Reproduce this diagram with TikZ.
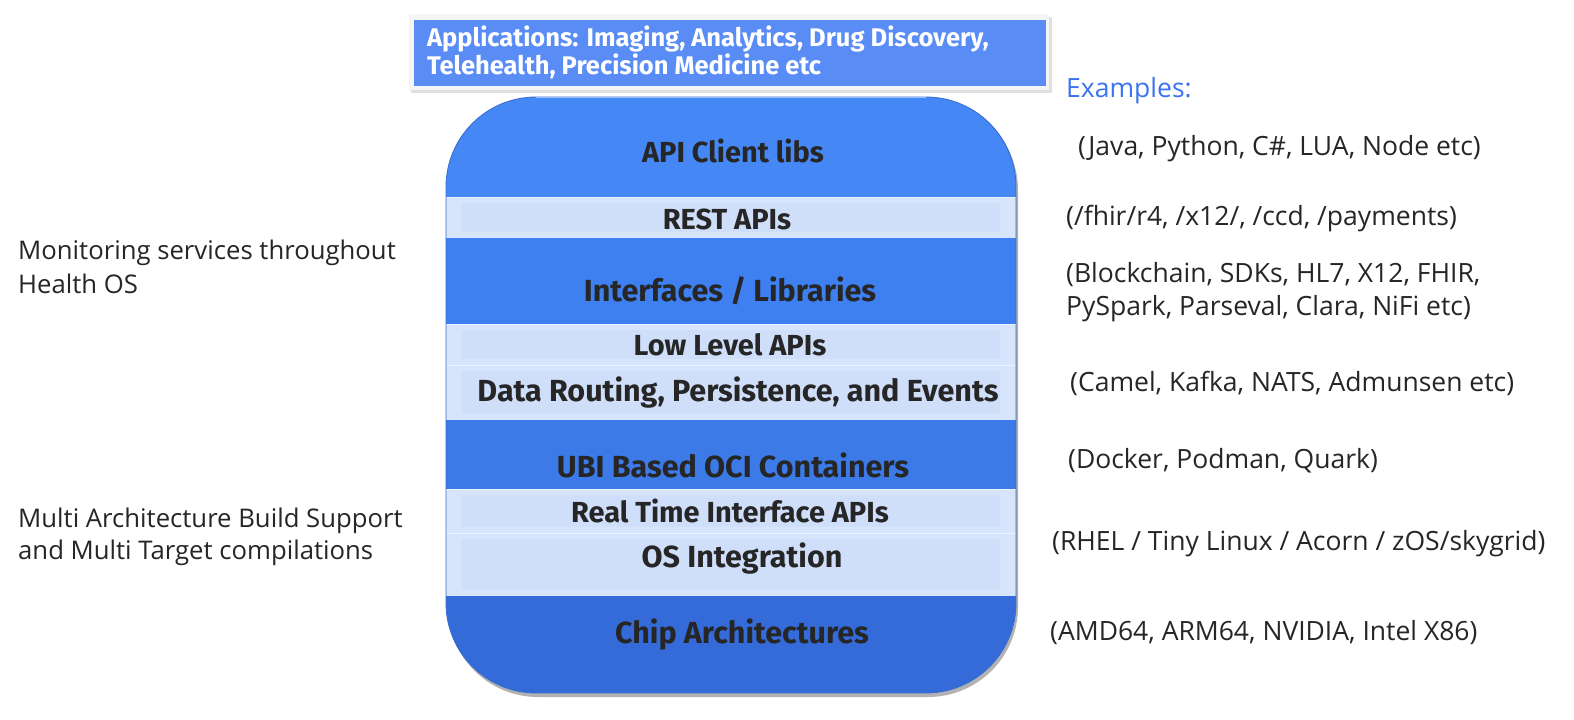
\documentclass[tikz,border=0pt]{standalone}
\usepackage{fontspec}
\setmainfont{Open Sans}
\newfontfamily\lyrfont{Fira Sans}
\usetikzlibrary{calc}
\definecolor{txt}{HTML}{262626}
\definecolor{exblue}{HTML}{3B73F0}
\definecolor{appblue}{HTML}{5A8CF5}
\definecolor{topblue}{HTML}{4487F5}
\definecolor{midblue}{HTML}{3F80F0}
\definecolor{ubiblue}{HTML}{3C7AE8}
\definecolor{chipblue}{HTML}{356BD8}
\definecolor{lightband}{HTML}{D7E5FC}
\definecolor{bandinner}{HTML}{CFDEF9}
\begin{document}
\begin{tikzpicture}[x=1pt,y=-1pt,
  lyr/.style={font=\lyrfont\bfseries\fontsize{29}{34}\selectfont, text=txt, anchor=base, inner sep=0pt},
  lyrbig/.style={font=\lyrfont\bfseries\fontsize{30.5}{36}\selectfont, text=txt, anchor=base, inner sep=0pt},
  note/.style={font=\fontsize{26.5}{31}\selectfont, text=txt, anchor=base west, inner sep=0pt},
  leftnote/.style={note, font=\fontsize{25.7}{30}\selectfont},
  apptext/.style={font=\lyrfont\bfseries\fontsize{25.5}{30}\selectfont, text=white, anchor=base west, inner sep=0pt},
  band/.style={fill=lightband},
  bevel/.style={fill=bandinner}
]
\useasboundingbox (0,0) rectangle (1574,720);
\fill[white] (0,0) rectangle (1574,720);

% application box
\fill[black!12] (411,17) rectangle (1052,93);
\fill[white!96!black] (409,14) rectangle (1049,90);
\node[fill=appblue, minimum width=632pt, minimum height=66pt, inner sep=0pt, anchor=north west] (apps) at (414,20) {};
\node[apptext] (app1) at (427,46) {Applications: Imaging, Analytics, Drug Discovery,};
\node[apptext] (app2) at (427,74) {Telehealth, Precision Medicine etc};

% stack shadow
\fill[black!30, rounded corners=90pt] (448,100) rectangle (1018,697);

% stack
\begin{scope}
\clip[rounded corners=90pt] (446,97) rectangle (1016,693);
\fill[topblue] (446,97) rectangle (1016,197);
\fill[band] (446,197) rectangle (1016,238);
\fill[midblue] (446,238) rectangle (1016,324);
\fill[band] (446,324) rectangle (1016,420);
\fill[ubiblue] (446,420) rectangle (1016,489);
\fill[band] (446,489) rectangle (1016,596);
\fill[chipblue] (446,596) rectangle (1016,693);
\fill[bevel] (462,203) rectangle (1000,232);
\fill[bevel] (462,330) rectangle (1000,359);
\fill[bevel] (462,371) rectangle (1000,414);
\fill[bevel] (462,495) rectangle (1000,527);
\fill[bevel] (462,539) rectangle (1000,590);
\draw[white!55!lightband, line width=1pt] (446,197.5) -- (1016,197.5) (446,324.5) -- (1016,324.5) (446,489.5) -- (1016,489.5) (446,365) -- (1016,365) (446,533) -- (1016,533);
\end{scope}
\draw[midblue!85!black, line width=0.8pt, rounded corners=90pt] (446,97) rectangle (1016,693);
\draw[topblue!55!white, line width=1.2pt] (536,97.8) -- (926,97.8);

% layer labels
\node[lyr] (api) at (733,162) {API Client libs};
\node[lyr] (rest) at (727,229) {REST APIs};
\node[lyrbig] (intf) at (730,301) {Interfaces / Libraries};
\node[lyr] (low) at (730,355) {Low Level APIs};
\node[lyrbig] (data) at (738,401) {Data Routing, Persistence, and Events};
\node[lyrbig] (ubi) at (733,477) {UBI Based OCI Containers};
\node[lyr] (rt) at (730,522) {Real Time Interface APIs};
\node[lyrbig] (os) at (742,567) {OS Integration};
\node[lyrbig] (chip) at (742,643) {Chip Architectures};

% examples
\node[note, text=exblue] (ex) at (1066,97) {Examples:};
\node[note] (ex1) at (1078,155) {(Java, Python, C\#, LUA, Node etc)};
\node[note] (ex2) at (1066,225) {(/fhir/r4, /x12/, /ccd, /payments)};
\node[note] (ex3a) at (1066,282) {(Blockchain, SDKs, HL7, X12, FHIR,};
\node[note] (ex3b) at (1066,315) {PySpark, Parseval, Clara, NiFi etc)};
\node[note] (ex4) at (1070,391) {(Camel, Kafka, NATS, Admunsen etc)};
\node[note] (ex5) at (1068,468) {(Docker, Podman, Quark)};
\node[note] (ex6) at (1052,550) {(RHEL / Tiny Linux / Acorn / zOS/skygrid)};
\node[note] (ex7) at (1050,640) {(AMD64, ARM64, NVIDIA, Intel X86)};

% left notes
\node[leftnote] (mon1) at (18,259) {Monitoring services throughout};
\node[leftnote] (mon2) at (18,293) {Health OS};
\node[leftnote] (mab1) at (18,527) {Multi Architecture Build Support};
\node[leftnote] (mab2) at (18,559) {and Multi Target compilations};
\end{tikzpicture}
\end{document}
